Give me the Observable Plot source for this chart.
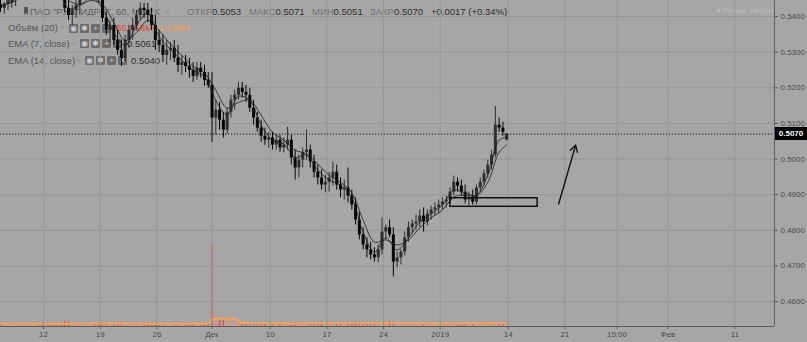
<!DOCTYPE html>
<html><head><meta charset="utf-8">
<script src="https://cdn.jsdelivr.net/npm/d3@7"></script>
<script src="https://cdn.jsdelivr.net/npm/@observablehq/plot@0.6"></script>
<style>
html,body{margin:0;padding:0;background:#a6a6a6;}
#wrap{position:relative;width:807px;height:342px;overflow:hidden;background:#a6a6a6;font-family:"Liberation Sans",Arial,sans-serif;}
#wrap svg{position:absolute;left:0;top:0;}
.lg{position:absolute;white-space:nowrap;font-size:9.5px;line-height:12px;color:#555;z-index:1;}
.k{color:#727272;}
.v{color:#2e2e2e;}
.caret{color:#8a8a8a;font-size:8px;}
.icons{position:absolute;z-index:1;height:9px;white-space:nowrap;}
.ic{display:inline-block;width:9px;height:9px;margin-right:2px;background:#6b6b6b;color:#cfcfcf;font-size:8px;line-height:9px;text-align:center;border-radius:1px;vertical-align:top;}
.flag{position:absolute;left:24px;top:7px;width:4px;height:8px;background:#555;z-index:1;clip-path:polygon(0 0,100% 0,100% 100%,50% 75%,0 100%);}
#tag{position:absolute;z-index:4;left:775px;width:32px;height:13px;background:#000;color:#fff;font-size:8px;line-height:13px;text-align:center;font-weight:bold;}
</style></head>
<body><div id="wrap"></div>
<script>
// ---- data: hourly-ish candles (3 per trading day) ----
const startT = -3.8;          // trading-day index of first candle (0 = 12 Nov)
const barsPerDay = 3;
const open = [
0.5431,0.5423,0.5434,0.5439,0.5451,0.5459,0.5467,0.5479,0.5487,0.5495,
0.5501,0.5490,0.5484,0.5495,0.5487,0.5479,0.5467,0.5456,0.5423,0.5403,
0.5417,0.5431,0.5445,0.5453,0.5462,0.5467,0.5456,0.5445,0.5395,0.5361,
0.5375,0.5333,0.5305,0.5283,0.5333,0.5361,0.5375,0.5403,0.5423,0.5417,
0.5403,0.5375,0.5333,0.5319,0.5291,0.5305,0.5311,0.5283,0.5263,0.5271,
0.5260,0.5249,0.5232,0.5255,0.5243,0.5221,0.5207,0.5115,0.5137,0.5109,
0.5081,0.5131,0.5165,0.5179,0.5199,0.5187,0.5179,0.5143,0.5115,0.5087,
0.5064,0.5053,0.5059,0.5039,0.5053,0.5031,0.5039,0.5053,0.5003,0.4975,
0.4997,0.5019,0.5025,0.4992,0.4963,0.4947,0.4927,0.4935,0.4947,0.4963,
0.4927,0.4913,0.4919,0.4896,0.4871,0.4829,0.4787,0.4759,0.4745,0.4731,
0.4723,0.4745,0.4795,0.4807,0.4787,0.4711,0.4723,0.4739,0.4779,0.4807,
0.4818,0.4823,0.4840,0.4823,0.4846,0.4857,0.4863,0.4871,0.4879,0.4885,
0.4907,0.4935,0.4924,0.4907,0.4885,0.4891,0.4879,0.4919,0.4935,0.4958,
0.4983,0.5011,0.5095,0.5087,0.5053];
const high = [
0.5445,0.5439,0.5451,0.5459,0.5467,0.5473,0.5490,0.5495,0.5501,0.5512,
0.5507,0.5501,0.5504,0.5501,0.5495,0.5484,0.5473,0.5467,0.5445,0.5431,
0.5445,0.5453,0.5462,0.5473,0.5479,0.5479,0.5467,0.5456,0.5411,0.5389,
0.5395,0.5361,0.5333,0.5347,0.5375,0.5395,0.5417,0.5439,0.5437,0.5437,
0.5423,0.5403,0.5361,0.5347,0.5333,0.5327,0.5333,0.5319,0.5291,0.5291,
0.5283,0.5271,0.5271,0.5271,0.5263,0.5243,0.5243,0.5165,0.5159,0.5131,
0.5143,0.5179,0.5193,0.5215,0.5215,0.5207,0.5199,0.5165,0.5131,0.5109,
0.5087,0.5075,0.5075,0.5067,0.5067,0.5059,0.5089,0.5067,0.5025,0.5011,
0.5031,0.5081,0.5039,0.5011,0.4983,0.4969,0.4955,0.4963,0.4992,0.4983,
0.4947,0.4941,0.4975,0.4913,0.4891,0.4851,0.4807,0.4779,0.4767,0.4751,
0.4759,0.4835,0.4815,0.4829,0.4807,0.4739,0.4745,0.4795,0.4823,0.4829,
0.4843,0.4857,0.4863,0.4857,0.4868,0.4877,0.4885,0.4891,0.4896,0.4919,
0.4952,0.4947,0.4941,0.4927,0.4907,0.4913,0.4927,0.4947,0.4969,0.4997,
0.5025,0.5148,0.5115,0.5103,0.5071];
const low = [
0.5411,0.5406,0.5417,0.5423,0.5428,0.5448,0.5462,0.5473,0.5479,0.5487,
0.5484,0.5473,0.5479,0.5479,0.5467,0.5451,0.5448,0.5411,0.5389,0.5375,
0.5395,0.5403,0.5448,0.5448,0.5451,0.5451,0.5437,0.5383,0.5347,0.5327,
0.5319,0.5291,0.5260,0.5271,0.5311,0.5333,0.5361,0.5389,0.5395,0.5383,
0.5361,0.5305,0.5299,0.5271,0.5263,0.5277,0.5271,0.5243,0.5235,0.5243,
0.5227,0.5215,0.5221,0.5227,0.5204,0.5199,0.5047,0.5067,0.5081,0.5059,
0.5070,0.5115,0.5137,0.5165,0.5171,0.5159,0.5131,0.5095,0.5075,0.5047,
0.5039,0.5031,0.5025,0.5025,0.5019,0.5017,0.5025,0.4983,0.4941,0.4947,
0.4975,0.4997,0.4975,0.4947,0.4927,0.4913,0.4905,0.4907,0.4924,0.4913,
0.4891,0.4885,0.4877,0.4857,0.4815,0.4773,0.4745,0.4723,0.4717,0.4711,
0.4709,0.4731,0.4773,0.4779,0.4669,0.4695,0.4703,0.4728,0.4767,0.4790,
0.4801,0.4807,0.4795,0.4812,0.4829,0.4840,0.4846,0.4857,0.4863,0.4874,
0.4896,0.4907,0.4896,0.4874,0.4868,0.4871,0.4871,0.4907,0.4924,0.4947,
0.4969,0.5003,0.5075,0.5064,0.5051];
const close = [
0.5423,0.5434,0.5445,0.5451,0.5459,0.5467,0.5479,0.5487,0.5495,0.5501,
0.5490,0.5484,0.5495,0.5487,0.5479,0.5467,0.5456,0.5423,0.5403,0.5417,
0.5431,0.5445,0.5453,0.5462,0.5467,0.5456,0.5445,0.5395,0.5361,0.5375,
0.5333,0.5305,0.5283,0.5333,0.5361,0.5375,0.5403,0.5423,0.5417,0.5403,
0.5375,0.5333,0.5319,0.5291,0.5305,0.5311,0.5283,0.5263,0.5271,0.5260,
0.5249,0.5232,0.5255,0.5243,0.5221,0.5207,0.5115,0.5137,0.5109,0.5081,
0.5131,0.5165,0.5179,0.5199,0.5187,0.5179,0.5143,0.5115,0.5087,0.5064,
0.5053,0.5059,0.5039,0.5053,0.5031,0.5039,0.5053,0.5003,0.4975,0.4997,
0.5019,0.5025,0.4992,0.4963,0.4947,0.4927,0.4935,0.4947,0.4963,0.4927,
0.4913,0.4919,0.4896,0.4871,0.4829,0.4787,0.4759,0.4745,0.4731,0.4723,
0.4745,0.4795,0.4807,0.4787,0.4711,0.4723,0.4739,0.4779,0.4807,0.4818,
0.4823,0.4840,0.4823,0.4846,0.4857,0.4863,0.4871,0.4879,0.4885,0.4907,
0.4935,0.4924,0.4907,0.4885,0.4891,0.4879,0.4919,0.4935,0.4958,0.4983,
0.5011,0.5095,0.5087,0.5075,0.5070];
// volume, millions
const volume = [
60,55,70,50,65,60,55,70,65,60,
75,55,60,50,65,70,60,120,110,80,
70,65,60,55,70,60,50,80,90,70,
85,70,95,80,60,55,70,65,60,70,
85,75,60,55,65,70,60,55,80,75,
65,60,70,75,80,90,2000,300,200,180,
160,150,120,110,100,90,80,70,65,60,
75,70,65,60,70,80,110,90,85,70,
65,120,80,75,70,65,60,70,75,80,
85,90,110,95,90,80,75,70,65,100,
90,85,110,120,100,80,75,70,65,80,
75,70,60,65,70,60,55,60,75,80,
70,65,60,55,70,65,60,75,80,90,
110,100,80,70,57];
// indicator readings (sampled candle indexes)
const emaIdx = [0,3,6,9,12,15,18,21,24,27,30,33,36,39,42,45,48,51,54,57,60,63,66,69,72,75,78,81,84,87,90,93,96,99,102,105,108,111,114,117,120,123,126,129,132,134];
const ema7 = [0.5428,0.5442,0.5467,0.5490,0.5493,0.5476,0.5423,0.5431,0.5453,0.5423,0.5355,0.5319,0.5375,0.5409,0.5344,0.5308,0.5277,0.5249,0.5232,0.5165,0.5123,0.5176,0.5165,0.5095,0.5053,0.5042,0.5005,0.5011,0.4969,0.4941,0.4927,0.4891,0.4795,0.4739,0.4779,0.4745,0.4779,0.4823,0.4846,0.4871,0.4913,0.4905,0.4899,0.4955,0.5053,0.5061];
const ema14 = [0.5434,0.5439,0.5459,0.5479,0.5490,0.5481,0.5445,0.5434,0.5445,0.5434,0.5383,0.5333,0.5355,0.5389,0.5361,0.5322,0.5291,0.5260,0.5241,0.5193,0.5143,0.5159,0.5165,0.5123,0.5075,0.5053,0.5025,0.5014,0.4986,0.4955,0.4935,0.4905,0.4829,0.4767,0.4773,0.4759,0.4773,0.4807,0.4835,0.4857,0.4893,0.4899,0.4896,0.4935,0.5019,0.5040];
const volMaIdx = [0,10,20,30,40,50,55,56,57,60,62,63,64,70,80,90,100,110,120,130,134];
const volMa = [65,65,70,72,70,70,72,165,190,195,190,150,85,78,76,80,82,78,72,78,81];
// axes
const xTickValues = [0,5,10,14.85,20,25,30,35,41,46,50.6,55.1,61];
const xTickLabels = ["12","19","26","Дек","10","17","24","2019","14","21","15:00","Фев","11"];
const yTicks = [0.46,0.47,0.48,0.49,0.50,0.51,0.52,0.53,0.54];
const xDomain = [-3.8, 64.5];
const yDomain = [0.4530, 0.5445];
// annotations
const lastPrice = 0.5070;
const boxT = [35.9, 43.6];
const boxP = [0.4866, 0.4890];
const arrowFrom = [45.45, 0.4874];
const arrowTo = [46.95, 0.5039];

// ---- build ----
const W = 807, H = 342, MR = 33, MB = 16;
const candles = open.map((o, i) => ({
  t: startT + i / barsPerDay, open: o, high: high[i], low: low[i], close: close[i], volume: volume[i]
}));
const emaT = emaIdx.map(i => startT + i / barsPerDay);
const ema7Data = ema7.map((v, k) => ({t: emaT[k], v}));
const ema14Data = ema14.map((v, k) => ({t: emaT[k], v}));
const volMaData = volMa.map((v, k) => ({t: startT + volMaIdx[k] / barsPerDay, v}));
const labelOf = new Map(xTickValues.map((v, i) => [v, xTickLabels[i]]));
const candleColor = d => d.close >= d.open ? "#2e2e2e" : "#050505";
const volColor = d => d.close >= d.open ? "#f0925e" : "#e2553f";
const common = {width: W, height: H, marginLeft: 0, marginRight: MR, marginTop: 0, marginBottom: MB};
const font = "'Liberation Sans', Arial, sans-serif";

const volPlot = Plot.plot({
  ...common,
  style: {background: "transparent", fontFamily: font},
  x: {domain: xDomain, axis: null},
  y: {domain: [0, 8000], axis: null},
  marks: [
    Plot.ruleX(candles, {x: "t", y1: 0, y2: "volume", stroke: volColor, strokeWidth: 1.4}),
    Plot.line(volMaData, {x: "t", y: "v", stroke: "#f4a25e", strokeWidth: 2, curve: "monotone-x"})
  ]
});

const pricePlot = Plot.plot({
  ...common,
  style: {background: "transparent", fontFamily: font, fontSize: "8px", color: "#4a4a4a"},
  x: {domain: xDomain},
  y: {domain: yDomain},
  marks: [
    Plot.gridX(xTickValues, {stroke: "#979797", strokeOpacity: 1}),
    Plot.gridY(yTicks, {stroke: "#979797", strokeOpacity: 1}),
    Plot.axisY(yTicks, {anchor: "right", tickFormat: d3.format(".4f"), tickSize: 3, tickPadding: 3, label: null, stroke: "#5a5a5a"}),
    Plot.axisX(xTickValues, {tickFormat: d => labelOf.get(d), tickSize: 3, tickPadding: 2, label: null, stroke: "#5a5a5a"}),
    Plot.ruleX([xDomain[1]], {stroke: "#5e5e5e"}),
    Plot.ruleY([yDomain[0]], {stroke: "#5e5e5e"}),
    Plot.ruleY([lastPrice], {stroke: "#111", strokeDasharray: "1.2,1.8"}),
    Plot.ruleX(candles, {x: "t", y1: "low", y2: "high", stroke: candleColor, strokeWidth: 1, clip: true}),
    Plot.ruleX(candles, {x: "t", y1: "open", y2: "close", stroke: candleColor, strokeWidth: 3, clip: true}),
    Plot.line(ema14Data, {x: "t", y: "v", stroke: "#1e1e1e", strokeWidth: 0.8, curve: "catmull-rom", clip: true}),
    Plot.line(ema7Data, {x: "t", y: "v", stroke: "#1e1e1e", strokeWidth: 0.8, curve: "catmull-rom", clip: true}),
    Plot.rect([0], {x1: boxT[0], x2: boxT[1], y1: boxP[0], y2: boxP[1], fill: "none", stroke: "#111", strokeWidth: 1.5}),
    Plot.arrow([0], {x1: arrowFrom[0], y1: arrowFrom[1], x2: arrowTo[0], y2: arrowTo[1], stroke: "#111", strokeWidth: 1.4, headLength: 8, bend: 0})
  ]
});

const wrap = document.getElementById("wrap");
wrap.innerHTML = `
<span class="flag"></span>
<div class="lg" style="top:5.5px;left:30px;color:#5e5e5e">ПАО "РУСГИДРО", 60, MOEX</div>
<div class="lg caret" style="top:5.5px;left:165px">˅</div>
<div class="lg" style="top:5.5px;left:187px"><span class="k">ОТКР</span><span class="v">0.5053</span></div>
<div class="lg" style="top:5.5px;left:249px"><span class="k">МАКС</span><span class="v">0.5071</span></div>
<div class="lg" style="top:5.5px;left:312px"><span class="k">МИН</span><span class="v">0.5051</span></div>
<div class="lg" style="top:5.5px;left:370px"><span class="k">ЗАКР</span><span class="v">0.5070</span></div>
<div class="lg" style="top:5.5px;left:431px"><span class="v">+0.0017 (+0.34%)</span></div>
<div class="lg" style="top:4.5px;left:716px;color:#bdbdbd;font-size:8px">● Рынок закрыт</div>

<div class="lg" style="top:22px;left:8px">Объём (20)</div>
<div class="lg caret" style="top:22px;left:60px">˅</div>
<div class="icons" style="top:23.5px;left:69px"><span class="ic">◉</span><span class="ic">✱</span><span class="ic">+</span><span class="ic">✕</span></div>
<div class="lg" style="top:22px;left:116px;color:#e0453a">56.858M</div>
<div class="lg" style="top:22px;left:153px;color:#f2a256">81.168M</div>

<div class="lg" style="top:37.7px;left:8px">EMA (7, close)</div>
<div class="lg caret" style="top:37.7px;left:72px">˅</div>
<div class="icons" style="top:39.2px;left:80px"><span class="ic">◉</span><span class="ic">✱</span><span class="ic">+</span><span class="ic">✕</span></div>
<div class="lg v" style="top:37.7px;left:127px">0.5061</div>

<div class="lg" style="top:54.5px;left:8px">EMA (14, close)</div>
<div class="lg caret" style="top:54.5px;left:76px">˅</div>
<div class="icons" style="top:56px;left:85px"><span class="ic">◉</span><span class="ic">✱</span><span class="ic">+</span><span class="ic">✕</span></div>
<div class="lg v" style="top:54.5px;left:131px">0.5040</div>
`;
volPlot.style.zIndex = 2;
pricePlot.style.zIndex = 3;
wrap.appendChild(volPlot);
wrap.appendChild(pricePlot);
const yPix = pricePlot.scale("y").apply(lastPrice);
const tag = document.createElement("div");
tag.id = "tag";
tag.style.top = (yPix - 6.5) + "px";
tag.textContent = "0.5070";
wrap.appendChild(tag);
</script>
</body></html>
